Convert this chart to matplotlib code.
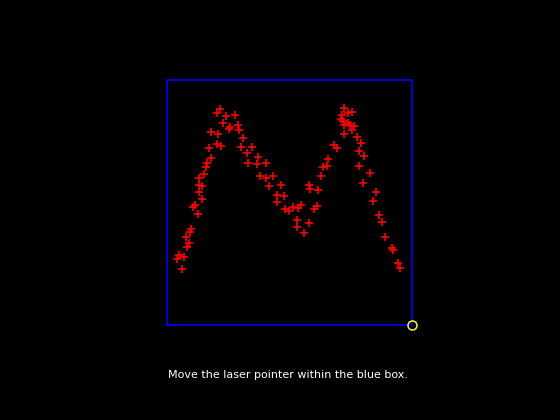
import matplotlib
matplotlib.use("Agg")
import matplotlib.pyplot as plt

# laser pointer samples, box units (box is 245 x 245)
pts_x = [15.3, 10.3, 11.7, 17, 19.7, 21.7, 19, 23, 23.7, 31.3, 25.7, 28, 35.3, 32.3, 32.3,
         35.3, 32.3, 36.7, 39, 40.3, 44.3, 41.7, 50.3, 53.7, 44, 51.3, 53.3, 49.7, 58.7, 56.3,
         68.3, 63, 71.3, 62.3, 71.7, 76.3, 74, 85.3, 80.3, 91.3, 81.3, 90.3, 98.7, 93, 99,
         105.7, 102.3, 113.7, 109.7, 117.3, 110.3, 118.3, 121.7, 126.3, 131.3, 133.7, 129.7,
         129.7, 137.3, 142.3, 149.7, 147, 142.3, 143, 151.3, 153.7, 156.3, 160.3, 161.3, 167.3,
         170.3, 177.3, 174.7, 180.7, 185.3, 176.3, 177.3, 183, 187, 185.3, 177.3, 174, 181.3,
         189.7, 194, 192, 197.3, 192.3, 203, 196.3, 209, 206.3, 212.3, 214.7, 218, 225.3, 226.3,
         231.3, 233]
pts_y = [56, 66, 70, 68.3, 77.7, 82.3, 87.7, 92.7, 96, 111, 118, 120, 125.7, 133.3, 140,
         139, 146.7, 150.7, 158.3, 162, 166.7, 176.7, 181, 179, 192.7, 191, 216, 212.3, 208.7, 201.7,
         209.7, 198.3, 200, 195.7, 195, 186.7, 177.7, 178, 171.7, 168, 161.7, 160.7, 161.7, 149, 146.7,
         149, 139.3, 140, 130, 129, 122.7, 115.7, 114.3, 118.3, 116.7, 120, 105,
         98.3, 91.7, 101.7, 119.3, 115.7, 140, 136, 135, 149, 158.3, 159, 166, 180,
         177.3, 216.7, 210, 211.7, 213.3, 204, 200, 200, 199.3, 195, 190.7, 206.3, 202,
         188.3, 181.7, 174, 169, 159, 151.7, 141.7, 132.7, 124, 110, 102.7, 87.7, 77.3, 74.7,
         61.7, 56.7]

box_x = [0, 245, 245, 0, 0]
box_y = [0, 0, 245, 245, 0]
cursor = (245, 0)

fig = plt.figure(figsize=(5.6, 4.2), dpi=100, facecolor="black")
ax = fig.add_axes([167 / 560, 95 / 420, 245 / 560, 245 / 420])
ax.set_facecolor("black")
ax.set_xlim(0, 245)
ax.set_ylim(0, 245)
ax.axis("off")

ax.plot(box_x, box_y, color="#0000ff", lw=1.2, clip_on=False)
ax.plot(pts_x, pts_y, "+", color="red", ms=5.5, mew=1.2, clip_on=False)
ax.plot(pts_x, pts_y, "s", color="red", ms=2, mew=0, clip_on=False)
ax.plot(*cursor, "o", mfc="none", mec="yellow", ms=6.5, mew=1.1, clip_on=False)

fig.text(288 / 560, 1 - 375 / 420, "Move the laser pointer within the blue box.",
         color="white", fontsize=8, ha="center", va="center")

fig.savefig("out.png", dpi=100, facecolor="black")
